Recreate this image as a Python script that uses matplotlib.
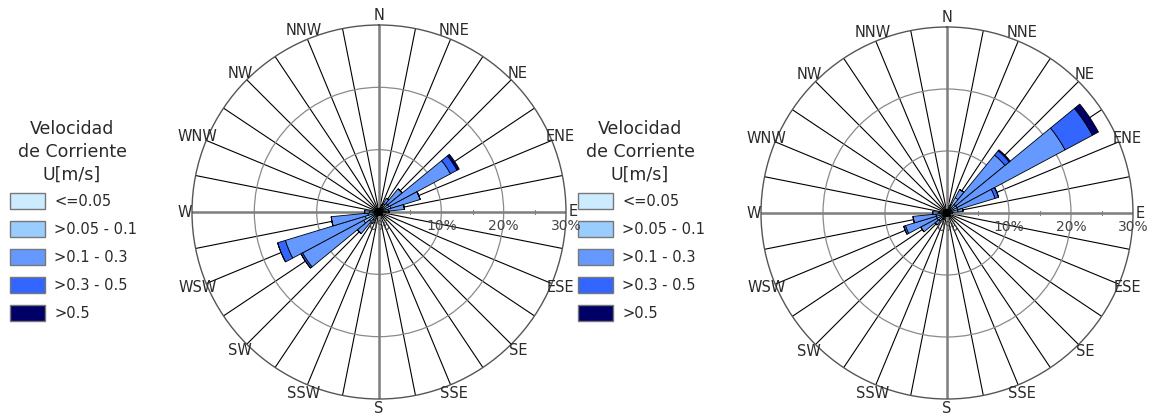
import numpy as np
import matplotlib
matplotlib.use("Agg")
import matplotlib.pyplot as plt
from matplotlib.patches import Rectangle

plt.rcParams['font.family'] = ['DejaVu Sans']

# ---------------- data ----------------
n_sectors = 32
compass_labels = ['N', 'NNE', 'NE', 'ENE', 'E', 'ESE', 'SE', 'SSE',
                  'S', 'SSW', 'SW', 'WSW', 'W', 'WNW', 'NW', 'NNW']
class_labels = ['<=0.05', '>0.05 - 0.1', '>0.1 - 0.3', '>0.3 - 0.5', '>0.5']
class_colors = ['#CCEBFF', '#99CCFF', '#6699FF', '#3366FF', '#000066']
legend_title_lines = ['Velocidad', 'de Corriente', 'U[m/s]']
r_ticks = [0, 10, 20, 30]

# frequencies (%) per sector (sector k centred at k*11.25 deg from N), per speed class
left_c1 = [0.2, 0.2, 0.2, 0.3, 0.3, 0.3, 0.3, 0.3, 0.3, 0.2, 0.2, 0.2, 0.2, 0.2, 0.2, 0.2,
           0.2, 0.2, 0.2, 0.3, 0.3, 0.3, 0.3, 0.3, 0.3, 0.2, 0.2, 0.2, 0.2, 0.2, 0.2, 0.2]
left_c2 = [0.3, 0.4, 0.6, 1.2, 1.5, 1.5, 1.7, 1.2, 0.8, 0.4, 0.3, 0.3, 0.3, 0.3, 0.3, 0.3,
           0.3, 0.3, 0.5, 1.2, 1.7, 2.5, 2.0, 1.5, 1.2, 0.5, 0.3, 0.3, 0.3, 0.3, 0.3, 0.3]
left_c3 = [0.0, 0.0, 0.4, 1.0, 3.0, 11.2, 4.9, 2.6, 0.5, 0.0, 0.0, 0.0, 0.0, 0.0, 0.0, 0.0,
           0.0, 0.0, 0.0, 0.6, 2.5, 11.1, 13.4, 5.9, 0.8, 0.0, 0.0, 0.0, 0.0, 0.0, 0.0, 0.0]
left_c4 = [0.0, 0.0, 0.0, 0.0, 0.0, 1.2, 0.0, 0.0, 0.0, 0.0, 0.0, 0.0, 0.0, 0.0, 0.0, 0.0,
           0.0, 0.0, 0.0, 0.0, 0.0, 0.3, 1.3, 0.0, 0.0, 0.0, 0.0, 0.0, 0.0, 0.0, 0.0, 0.0]
left_c5 = [0.0, 0.0, 0.0, 0.0, 0.0, 0.4, 0.0, 0.0, 0.0, 0.0, 0.0, 0.0, 0.0, 0.0, 0.0, 0.0,
           0.0, 0.0, 0.0, 0.0, 0.0, 0.0, 0.0, 0.0, 0.0, 0.0, 0.0, 0.0, 0.0, 0.0, 0.0, 0.0]

right_c1 = [0.2, 0.2, 0.2, 0.3, 0.3, 0.3, 0.3, 0.3, 0.3, 0.2, 0.2, 0.2, 0.2, 0.2, 0.2, 0.2,
            0.2, 0.2, 0.2, 0.3, 0.3, 0.3, 0.3, 0.3, 0.3, 0.2, 0.2, 0.2, 0.2, 0.2, 0.2, 0.2]
right_c2 = [0.3, 0.4, 0.8, 2.5, 1.5, 1.5, 1.5, 1.5, 0.6, 0.3, 0.3, 0.3, 0.3, 0.3, 0.3, 0.3,
            0.3, 0.3, 0.4, 0.8, 1.4, 1.5, 1.5, 1.5, 1.0, 0.4, 0.3, 0.3, 0.3, 0.3, 0.3, 0.3]
right_c3 = [0.0, 0.0, 0.3, 1.5, 10.3, 19.8, 6.3, 0.8, 0.0, 0.0, 0.0, 0.0, 0.0, 0.0, 0.0, 0.0,
            0.0, 0.0, 0.0, 0.0, 0.8, 3.0, 5.2, 3.7, 1.0, 0.0, 0.0, 0.0, 0.0, 0.0, 0.0, 0.0]
right_c4 = [0.0, 0.0, 0.0, 0.0, 0.9, 5.0, 0.6, 0.0, 0.0, 0.0, 0.0, 0.0, 0.0, 0.0, 0.0, 0.0,
            0.0, 0.0, 0.0, 0.0, 0.0, 0.0, 0.3, 0.0, 0.0, 0.0, 0.0, 0.0, 0.0, 0.0, 0.0, 0.0]
right_c5 = [0.0, 0.0, 0.0, 0.0, 0.2, 1.1, 0.0, 0.0, 0.0, 0.0, 0.0, 0.0, 0.0, 0.0, 0.0, 0.0,
            0.0, 0.0, 0.0, 0.0, 0.0, 0.0, 0.0, 0.0, 0.0, 0.0, 0.0, 0.0, 0.0, 0.0, 0.0, 0.0]

left_data = [left_c1, left_c2, left_c3, left_c4, left_c5]
right_data = [right_c1, right_c2, right_c3, right_c4, right_c5]

# ---------------- figure ----------------
W, H = 1152, 419
fig = plt.figure(figsize=(W / 100, H / 100), dpi=100)
TXT = '#2a2a2a'


def rose(center_px, radius_px, data):
    cx, cy = center_px
    ax = fig.add_axes([(cx - radius_px) / W, (H - cy - radius_px) / H,
                       2 * radius_px / W, 2 * radius_px / H], projection='polar')
    ax.set_theta_zero_location('N')
    ax.set_theta_direction(-1)
    rmax = r_ticks[-1]
    ax.set_ylim(0, rmax)
    step = 2 * np.pi / n_sectors
    theta = np.arange(n_sectors) * step
    ax.set_xticks(theta)
    ax.set_xticklabels([])
    ax.set_yticks(r_ticks[1:-1])
    ax.set_yticklabels([])
    ax.xaxis.grid(True, color='black', lw=0.8)
    ax.yaxis.grid(True, color='#8a8a8a', lw=0.9)
    ax.spines['polar'].set_color('#555555')
    ax.spines['polar'].set_linewidth(1.0)
    ax.set_axisbelow(True)
    ax.tick_params(length=0)
    # main N-S / E-W axes
    for a in (0, np.pi / 2, np.pi, 3 * np.pi / 2):
        ax.plot([a, a], [0, rmax], color='#808080', lw=1.8, zorder=1.5)
    # minor ticks along the E axis
    for rv in [5, 15, 25]:
        ax.plot([np.pi / 2], [rv], marker='|', color='#808080', ms=3, mew=0.8, zorder=1.6)
    # stacked bars
    bottom = np.zeros(n_sectors)
    for vals, col in zip(data, class_colors):
        v = np.array(vals)
        ax.bar(theta, v, width=step, bottom=bottom, color=col,
               edgecolor='black', linewidth=0.6, zorder=3, align='center')
        bottom = bottom + v
    # compass labels
    for i, lab in enumerate(compass_labels):
        a = np.deg2rad(i * 22.5)
        rr = rmax * 1.05
        if lab in ('E', 'W'):
            rr = rmax * 1.04
        ax.text(a, rr, lab, ha='center', va='center', fontsize=10.5,
                color=TXT, clip_on=False, zorder=5)
    # radial tick labels below E axis
    for rv in r_ticks:
        x_px = cx + rv / rmax * radius_px
        fig.text(x_px / W, 1 - (cy + 14) / H, f'{rv}%', ha='center', va='center',
                 fontsize=10, color='#444444')
    return ax


def legend(x0):
    for j, line in enumerate(legend_title_lines):
        fig.text((x0 + 62) / W, 1 - (129 + j * 23) / H, line, ha='center', va='center',
                 fontsize=12.5, color=TXT)
    for i, (lab, col) in enumerate(zip(class_labels, class_colors)):
        yc = 201 + i * 28
        fig.patches.append(Rectangle((x0 / W, 1 - (yc + 8) / H), 35 / W, 16 / H,
                                     transform=fig.transFigure, facecolor=col,
                                     edgecolor='#777777', lw=1.0))
        fig.text((x0 + 44) / W, 1 - yc / H, lab, ha='left', va='center',
                 fontsize=10.5, color=TXT)


rose((379, 212), 187, left_data)
rose((947, 213), 186, right_data)
legend(10)
legend(578)

fig.savefig('out.png', dpi=100)
